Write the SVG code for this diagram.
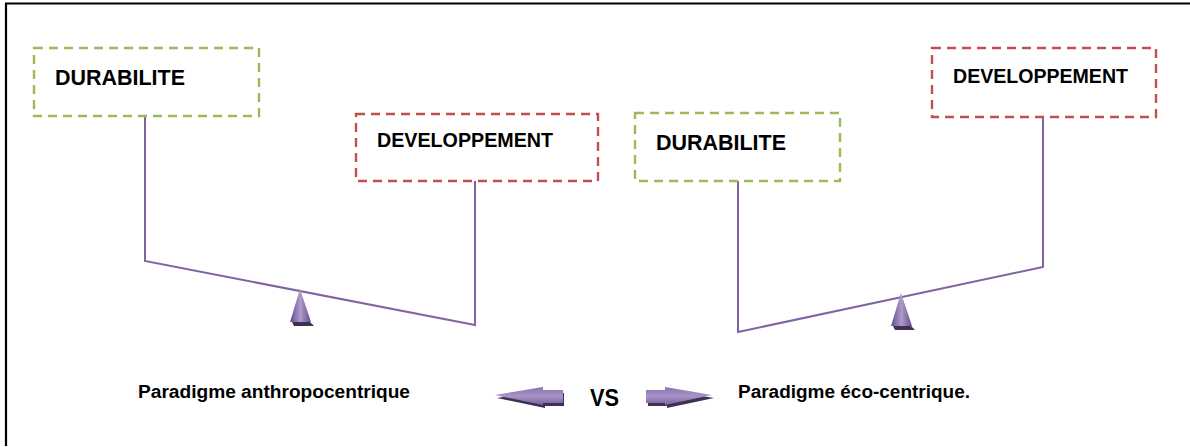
<svg xmlns="http://www.w3.org/2000/svg" width="1190" height="447" viewBox="0 0 1190 447">
<defs>
<style>
.box{fill:#fff;stroke-width:2.4;stroke-dasharray:9 6}
.g{stroke:#9BBB59}
.r{stroke:#C0504D}
.lbl{font-family:"Liberation Sans",Arial,sans-serif;font-weight:bold;fill:#000}
.conn{fill:none;stroke:#8064A2;stroke-width:2}
.cap{font-family:"Liberation Sans",Arial,sans-serif;font-size:18px;fill:#000}
</style>
<linearGradient id="tri" x1="0" y1="0" x2="1" y2="0">
<stop offset="0" stop-color="#644A8E"/>
<stop offset="0.5" stop-color="#AE9BCB"/>
<stop offset="1" stop-color="#644A8E"/>
</linearGradient>
<linearGradient id="arr" x1="0" y1="0" x2="0" y2="1">
<stop offset="0" stop-color="#8A70B0"/>
<stop offset="0.5" stop-color="#A994C8"/>
<stop offset="1" stop-color="#7A5FA0"/>
</linearGradient>
</defs>
<rect width="1190" height="447" fill="#fff"/>
<path d="M6 446 V3.5 H1190" fill="none" stroke="#000" stroke-width="2.2"/>

<g id="connectors">
<polyline class="conn" points="145,116 145,261 475,325 475,181"/>
<polyline class="conn" points="738,181 738,332 1043,267 1043,117"/>
</g>

<g id="node-durabilite-1">
<rect class="box g" x="34" y="48" width="225" height="68"/>
<text class="lbl" x="55" y="85" font-size="22" textLength="130" lengthAdjust="spacingAndGlyphs">DURABILITE</text>
</g>
<g id="node-developpement-1">
<rect class="box r" x="356" y="114" width="242" height="67"/>
<text class="lbl" x="377" y="147" font-size="20" textLength="176" lengthAdjust="spacingAndGlyphs">DEVELOPPEMENT</text>
</g>
<g id="node-durabilite-2">
<rect class="box g" x="635" y="113" width="205" height="68"/>
<text class="lbl" x="656" y="150" font-size="22" textLength="130" lengthAdjust="spacingAndGlyphs">DURABILITE</text>
</g>
<g id="node-developpement-2">
<rect class="box r" x="932" y="48" width="224" height="69"/>
<text class="lbl" x="953" y="83" font-size="20" textLength="175" lengthAdjust="spacingAndGlyphs">DEVELOPPEMENT</text>
</g>

<g id="fulcrum-left">
<polygon points="292,322 310,322 314,326 294,326" fill="#3F3151"/>
<polygon points="300,289 290,322 311,322" fill="url(#tri)"/>
</g>
<g id="fulcrum-right">
<polygon points="893,326 911,326 915,330 895,330" fill="#3F3151"/>
<polygon points="901,293 891,326 912,326" fill="url(#tri)"/>
</g>

<g id="arrow-left">
<polygon points="497,398 545,390 545,393 564,393 564,406 545,406 545,408" fill="#3F3151"/>
<polygon points="495,395 543,387 543,390 563,390 563,403 543,403 543,405" fill="url(#arr)"/>
</g>
<text class="lbl" x="590" y="406" font-size="24" textLength="29" lengthAdjust="spacingAndGlyphs">VS</text>
<g id="arrow-right">
<polygon points="648,393 667,393 667,390 714,398 667,408 667,406 648,406" fill="#3F3151"/>
<polygon points="646,390 665,390 665,387 712,395 665,405 665,403 646,403" fill="url(#arr)"/>
</g>

<text class="cap" x="138" y="398" font-weight="bold" textLength="272" lengthAdjust="spacingAndGlyphs">Paradigme anthropocentrique</text>
<text class="cap" x="738" y="398" font-weight="bold" textLength="232" lengthAdjust="spacingAndGlyphs">Paradigme éco-centrique.</text>
</svg>
